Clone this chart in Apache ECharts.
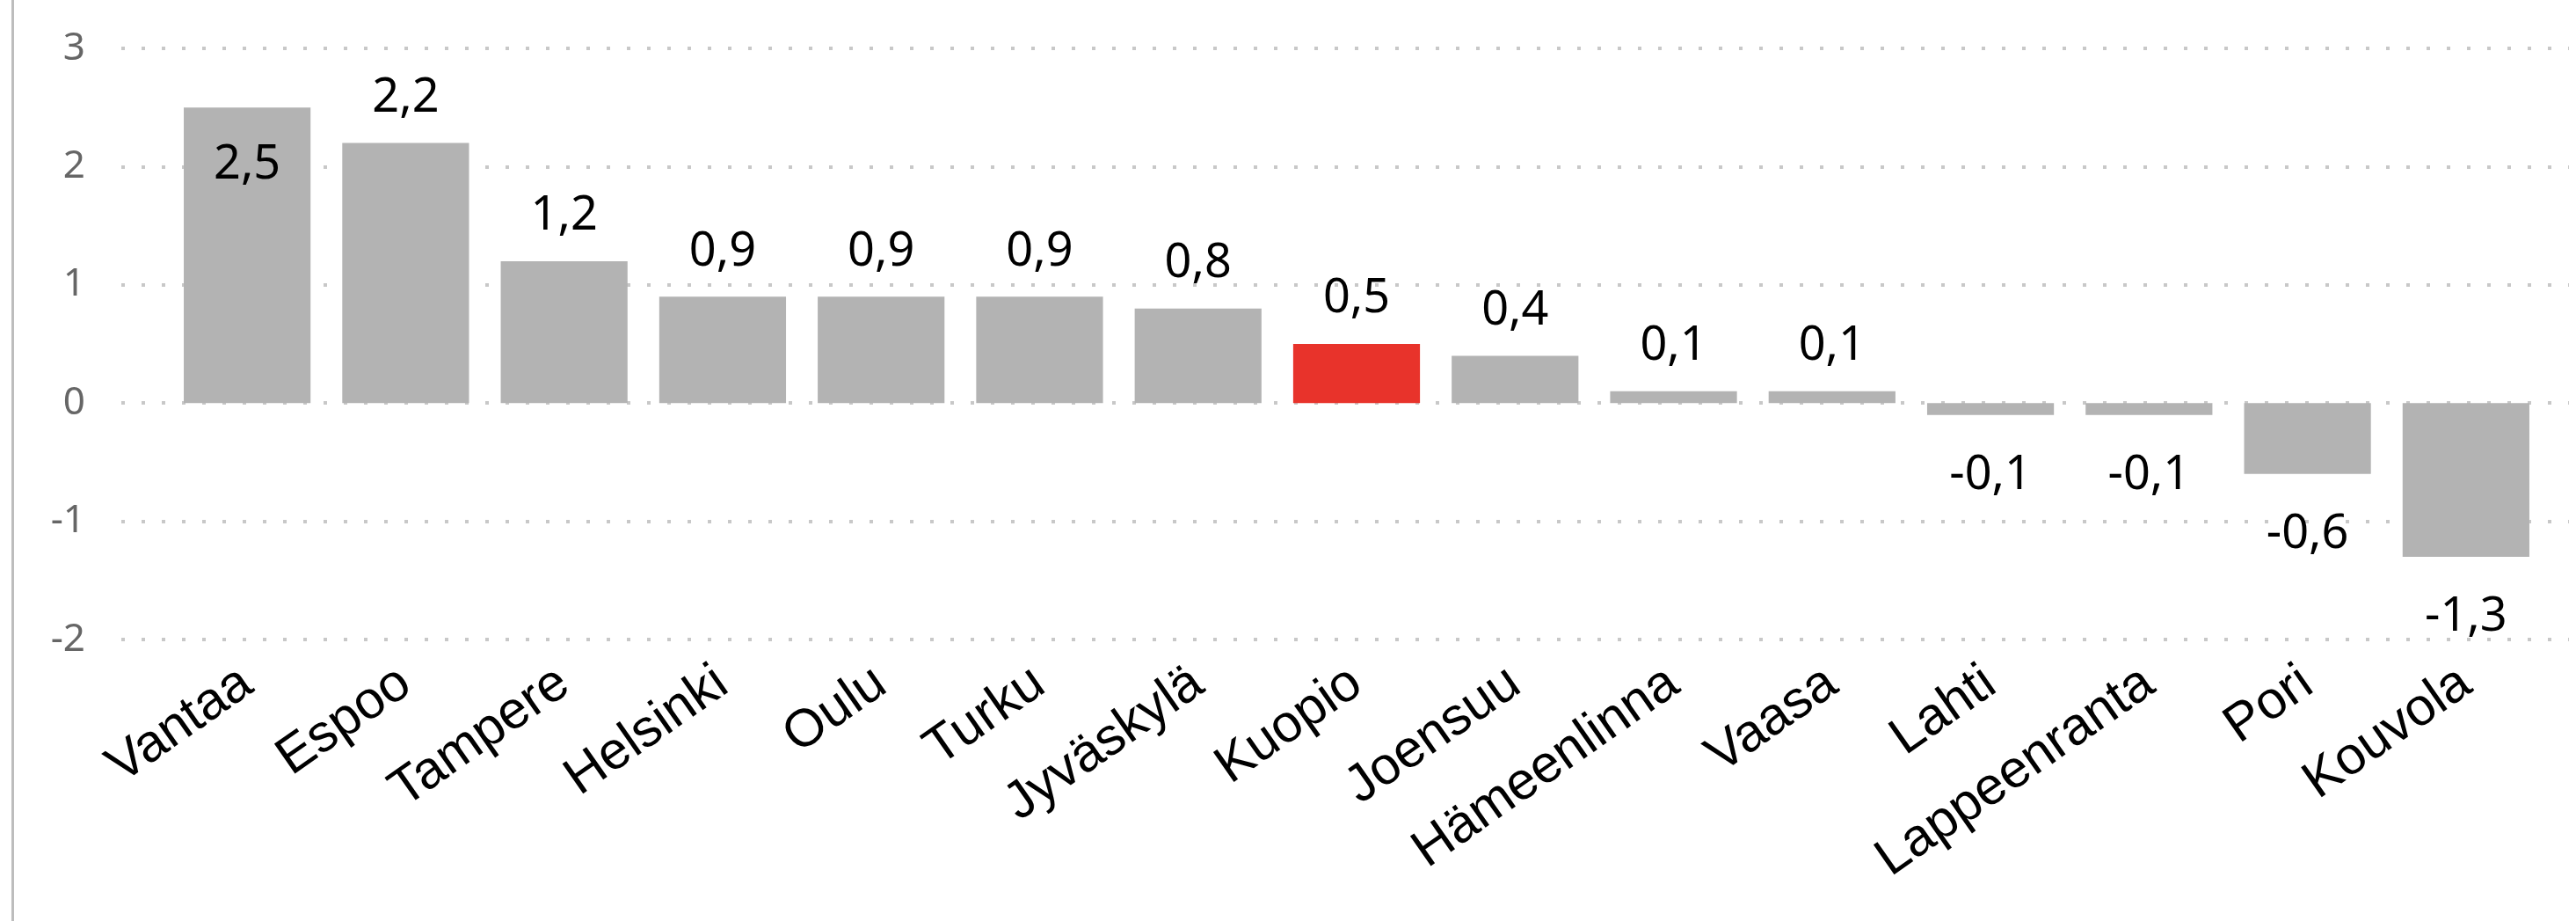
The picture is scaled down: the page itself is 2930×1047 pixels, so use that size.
<!DOCTYPE html>
<html>
<head>
<meta charset="utf-8">
<script src="https://cdn.jsdelivr.net/npm/echarts@6/dist/echarts.min.js"></script>
<style>
  html, body { margin: 0; padding: 0; background: #ffffff; }
  #wrap { position: relative; width: 2930px; height: 1047px; }
  #chart { width: 2930px; height: 1047px; }
  /* grey frame line on the left edge */
  #edge { position: absolute; left: 13px; top: 0; width: 3px; height: 1047px; background: #bdbdbd; }
</style>
</head>
<body>
<div id="wrap">
  <div id="chart"></div>
  <div id="edge"></div>
</div>
<script>
var cities = ["Vantaa", "Espoo", "Tampere", "Helsinki", "Oulu", "Turku", "Jyväskylä", "Kuopio",
  "Joensuu", "Hämeenlinna", "Vaasa", "Lahti", "Lappeenranta", "Pori", "Kouvola"];
var values = [2.5, 2.2, 1.2, 0.9, 0.9, 0.9, 0.8, 0.5, 0.4, 0.1, 0.1, -0.1, -0.1, -0.6, -1.3];
var highlight = "Kuopio";
var yTicks = [-2, -1, 0, 1, 2, 3];

var grey = "#b3b3b3";
var red = "#e8332b";

// bar data with colour and label side per item
var barData = values.map(function (v, i) {
  var item = { value: v, itemStyle: { color: cities[i] === highlight ? red : grey } };
  if (v < 0) {
    item.label = { position: "bottom", distance: 42 };
  } else if (v === Math.max.apply(null, values)) {
    // no room above the tallest bar, label goes inside
    item.label = { position: "insideTop", distance: 38 };
  }
  return item;
});

var chart = echarts.init(document.getElementById("chart"));
var option = {
  animation: false,
  grid: [
    // wide grid only for the dotted lines and y labels
    { left: 138, right: 8, top: 55, bottom: 320 },
    // grid holding the bars
    { left: 191, right: 35, top: 55, bottom: 320 }
  ],
  xAxis: [
    { gridIndex: 0, type: "value", show: false, min: 0, max: 1 },
    {
      gridIndex: 1,
      type: "category",
      data: cities,
      axisLine: { show: false, onZero: false },
      axisTick: { show: false },
      axisLabel: {
        rotate: 35,
        margin: 44,
        color: "#000000",
        fontFamily: "Liberation Sans",
        fontSize: 60,
        interval: 0
      }
    }
  ],
  yAxis: [
    {
      gridIndex: 0,
      type: "value",
      min: yTicks[0],
      max: yTicks[yTicks.length - 1],
      interval: 1,
      axisLine: { show: false },
      axisTick: { show: false },
      axisLabel: {
        margin: 41,
        color: "#666666",
        fontFamily: "Noto Sans",
        fontSize: 44
      },
      splitLine: {
        show: true,
        lineStyle: { color: "#c8c8c8", width: 4, type: [4, 19] }
      }
    },
    {
      gridIndex: 1,
      type: "value",
      min: yTicks[0],
      max: yTicks[yTicks.length - 1],
      interval: 1,
      show: false,
      splitLine: { show: false }
    }
  ],
  series: [
    {
      type: "bar",
      xAxisIndex: 1,
      yAxisIndex: 1,
      data: barData,
      barCategoryGap: "20%",
      label: {
        show: true,
        position: "top",
        distance: 24,
        color: "#000000",
        fontFamily: "Noto Sans",
        fontSize: 54,
        formatter: function (p) {
          return p.value.toFixed(1).replace(".", ",");
        }
      }
    }
  ]
};
chart.setOption(option);
</script>
</body>
</html>
